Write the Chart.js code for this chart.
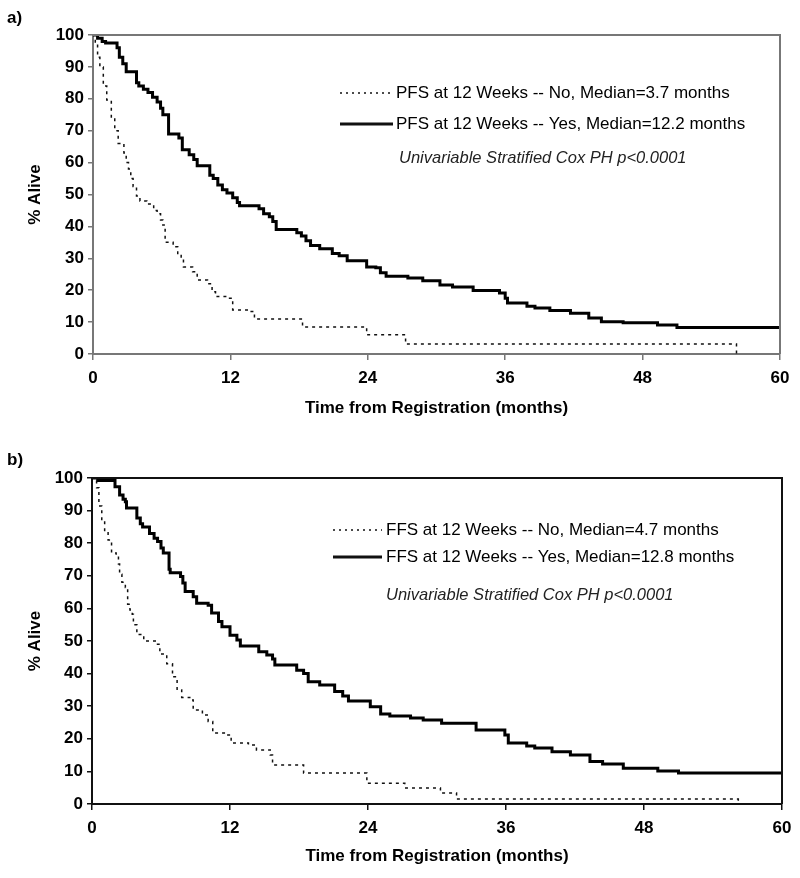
<!DOCTYPE html>
<html>
<head>
<meta charset="utf-8">
<script src="https://cdn.jsdelivr.net/npm/chart.js@4.4.1/dist/chart.umd.min.js"></script>
<style>
body { margin: 0; background: #fff; width: 800px; height: 878px; overflow: hidden; position: relative; font-family: "Liberation Sans", Arial, sans-serif; }
.panel { position: absolute; left: 0; }
.tag { position: absolute; left: 7px; font-weight: bold; font-size: 17px; line-height: 20px; }
</style>
</head>
<body>
<canvas id="chartA" class="panel" width="800" height="430" style="top:0"></canvas>
<canvas id="chartB" class="panel" width="800" height="448" style="top:430px"></canvas>
<div class="tag" style="top:8px">a)</div>
<div class="tag" style="top:450px">b)</div>
<script>
const FONT = '"Liberation Sans", Arial, sans-serif';

// axis ticks
const monthTicks = [0, 12, 24, 36, 48, 60];
const aliveTicks = [0, 10, 20, 30, 40, 50, 60, 70, 80, 90, 100];

// panel a - PFS at 12 weeks, No
const pfsNoTime  = [0, 0.2, 0.4, 0.6, 0.9, 1.2, 1.6, 1.9, 2.2, 2.7, 2.9, 3.1, 3.3, 3.5, 3.8, 4.1, 4.7, 5.3, 5.6, 5.9, 6.1, 6.3, 7.0, 7.4, 7.7, 7.9, 8.7, 9.1, 10.0, 10.4, 10.7, 11.8, 12.2, 13.7, 14.1, 18.3, 23.9, 27.3, 56.2];
const pfsNoAlive = [100, 97.5, 93, 90, 84, 79.6, 74, 70, 66, 63, 60, 58, 55, 52.5, 49.5, 48, 47, 45, 44, 42, 40.4, 35, 33.6, 31.5, 30, 27.3, 25.8, 23.2, 22, 19.5, 18, 17.5, 13.8, 13.3, 11, 8.5, 6, 3.1, 0];
// panel a - PFS at 12 weeks, Yes
const pfsYesTime  = [0, 0.4, 0.8, 1.1, 2.1, 2.3, 2.6, 2.9, 3.8, 4.0, 4.4, 4.8, 5.2, 5.6, 5.9, 6.1, 6.6, 7.5, 7.8, 8.4, 8.8, 9.1, 10.2, 10.5, 10.9, 11.3, 11.7, 12.2, 12.6, 12.8, 14.5, 14.9, 15.4, 15.7, 16.0, 17.8, 18.2, 18.6, 19.0, 19.8, 20.9, 21.5, 22.2, 23.9, 24.7, 25.1, 25.6, 27.5, 28.8, 30.3, 31.4, 33.2, 35.5, 36.0, 36.2, 37.9, 38.6, 39.9, 41.7, 43.3, 44.4, 46.3, 49.3, 51.0, 60];
const pfsYesAlive = [100, 99, 98, 97.5, 96, 93, 91, 88.5, 85, 84, 83, 82, 80.5, 79, 77, 75, 69, 67.7, 64, 62.5, 61, 59, 56, 55, 53, 51.5, 50.5, 49, 47.5, 46.5, 45.5, 44, 43, 41.5, 39, 38, 37, 35.5, 34, 33, 31.5, 30.8, 29.2, 27.3, 27, 25.5, 24.4, 23.8, 23, 21.6, 21, 19.9, 19.1, 17.5, 16, 15, 14.4, 13.6, 12.8, 11.3, 10.1, 9.8, 9.1, 8.3, 8.3];

// panel b - FFS at 12 weeks, No
const ffsNoTime  = [0, 0.2, 0.4, 0.6, 0.85, 1.1, 1.4, 1.7, 2.1, 2.3, 2.4, 2.6, 2.9, 3.1, 3.3, 3.5, 3.6, 3.9, 4.5, 5.5, 5.9, 6.5, 7.0, 7.4, 7.8, 8.5, 8.8, 9.6, 10.1, 10.5, 11.7, 12.1, 13.6, 14.3, 15.5, 15.7, 18.4, 23.9, 27.2, 30.3, 31.7, 56.2];
const ffsNoAlive = [100, 99.4, 97, 91.4, 87, 83.5, 81, 77, 76.4, 73.6, 70.5, 68, 66.4, 61.3, 59.5, 58.2, 55, 52, 50, 49, 46, 43, 39, 35, 32.7, 31.9, 28.8, 27.3, 25.3, 21.8, 21.2, 18.7, 18.1, 16.6, 15, 12, 9.5, 6.4, 4.9, 3.4, 1.5, 0.7];
// panel b - FFS at 12 weeks, Yes
const ffsYesTime  = [0, 0.5, 2.0, 2.4, 2.7, 2.9, 3.0, 3.9, 4.2, 4.4, 5.0, 5.4, 5.7, 6.0, 6.2, 6.7, 6.8, 7.7, 7.9, 8.1, 8.8, 9.1, 10.1, 10.4, 11.0, 11.3, 12.0, 12.6, 12.9, 14.5, 15.2, 15.7, 15.9, 17.8, 18.4, 18.8, 19.8, 21.1, 21.8, 22.3, 24.2, 25.1, 25.9, 27.7, 28.8, 30.4, 33.4, 35.9, 36.2, 37.8, 38.5, 40.0, 41.6, 43.3, 44.4, 46.2, 49.2, 51.0, 60];
const ffsYesAlive = [100, 99.2, 97.3, 94.8, 93.5, 92.7, 90.8, 87.7, 86, 85, 83, 81.5, 80.5, 78.5, 77, 72, 70.9, 69.8, 67.8, 65.2, 63.6, 61.6, 61, 58.6, 56, 54.4, 51.8, 50.3, 48.5, 46.7, 45.7, 44.5, 42.6, 41, 40, 37.5, 36.5, 34.5, 33.1, 31.6, 29.8, 27.6, 27, 26.4, 25.8, 24.8, 22.7, 21.2, 18.7, 17.8, 17.2, 16, 15, 13, 12.3, 11, 10.1, 9.5, 9.5];

function toPoints(times, alive) {
    return times.map((t, i) => ({ x: t, y: alive[i] }));
}

// draws top/right frame plus the in-plot legend text
const framePlugin = {
    id: 'frame',
    afterDraw(chart, args, opts) {
        const { ctx, chartArea: a } = chart;
        ctx.save();
        ctx.strokeStyle = opts.color;
        ctx.lineWidth = 2;
        ctx.beginPath();
        ctx.moveTo(a.left, a.top);
        ctx.lineTo(a.right, a.top);
        ctx.lineTo(a.right, a.bottom);
        ctx.stroke();

        ctx.fillStyle = '#000';
        ctx.textBaseline = 'middle';
        opts.rows.forEach(row => {
            if (row.dash) {
                ctx.beginPath();
                ctx.setLineDash(row.dash);
                ctx.lineWidth = row.width;
                ctx.strokeStyle = '#111';
                ctx.moveTo(row.x0, row.y);
                ctx.lineTo(row.x1, row.y);
                ctx.stroke();
                ctx.setLineDash([]);
            }
            ctx.font = row.font;
            ctx.fillStyle = row.color || '#000';
            ctx.fillText(row.text, row.tx, row.y);
        });
        ctx.restore();
    }
};

function makeChart(id, noPts, yesPts, g) {
    const tickFont = { family: FONT, size: 17, weight: 'bold' };
    new Chart(document.getElementById(id), {
        type: 'line',
        data: {
            datasets: [
                { data: noPts, borderColor: '#111', borderWidth: 1.5, borderDash: [3, 4], stepped: 'before', pointRadius: 0, fill: false },
                { data: yesPts, borderColor: '#000', borderWidth: 3, stepped: 'before', pointRadius: 0, fill: false }
            ]
        },
        options: {
            responsive: false,
            animation: false,
            devicePixelRatio: 1,
            layout: { padding: { left: g.padLeft, right: g.padRight, top: g.padTop, bottom: g.padBottom } },
            plugins: {
                legend: { display: false },
                tooltip: { enabled: false },
                frame: { color: g.frame, rows: g.rows }
            },
            scales: {
                x: {
                    type: 'linear', min: 0, max: 60,
                    afterBuildTicks: s => { s.ticks = monthTicks.map(v => ({ value: v })); },
                    afterFit: s => { s.height = g.xHeight; },
                    grid: { drawOnChartArea: false, drawTicks: true, tickLength: 6, color: g.frame, lineWidth: 1.5 },
                    border: { color: g.frame, width: 2 },
                    ticks: { font: tickFont, color: '#000', padding: 8, maxRotation: 0, autoSkip: false },
                    title: { display: true, text: 'Time from Registration (months)', font: tickFont, color: '#000', padding: 0 }
                },
                y: {
                    min: 0, max: 100,
                    afterBuildTicks: s => { s.ticks = aliveTicks.map(v => ({ value: v })); },
                    afterFit: s => { s.width = g.yWidth; },
                    grid: { drawOnChartArea: false, drawTicks: true, tickLength: 5, color: g.frame, lineWidth: 1.5 },
                    border: { color: g.frame, width: 2 },
                    ticks: { font: tickFont, color: '#000', padding: 4, autoSkip: false },
                    title: { display: true, text: '% Alive', font: tickFont, color: '#000', padding: 0 }
                }
            }
        },
        plugins: [framePlugin]
    });
}

const legendFont = '17px ' + FONT;
const noteFont = 'italic 16.5px ' + FONT;

makeChart('chartA', toPoints(pfsNoTime, pfsNoAlive), toPoints(pfsYesTime, pfsYesAlive), {
    padLeft: 25, padRight: 20, padTop: 35, padBottom: 11, yWidth: 68, xHeight: 65, frame: '#777',
    rows: [
        { dash: [2, 4], width: 1.5, x0: 340, x1: 393, y: 93, tx: 396, text: 'PFS at 12 Weeks -- No, Median=3.7 months', font: legendFont },
        { dash: [], width: 3, x0: 340, x1: 393, y: 124, tx: 396, text: 'PFS at 12 Weeks -- Yes, Median=12.2 months', font: legendFont },
        { tx: 399, y: 158, text: 'Univariable Stratified Cox PH p<0.0001', font: noteFont, color: '#222' }
    ]
});

makeChart('chartB', toPoints(ffsNoTime, ffsNoAlive), toPoints(ffsYesTime, ffsYesAlive), {
    padLeft: 25, padRight: 18, padTop: 48, padBottom: 11, yWidth: 67, xHeight: 63, frame: '#111',
    rows: [
        { dash: [2, 4], width: 1.5, x0: 333, x1: 382, y: 100, tx: 386, text: 'FFS at 12 Weeks -- No, Median=4.7 months', font: legendFont },
        { dash: [], width: 3, x0: 333, x1: 382, y: 127, tx: 386, text: 'FFS at 12 Weeks -- Yes, Median=12.8 months', font: legendFont },
        { tx: 386, y: 165, text: 'Univariable Stratified Cox PH p<0.0001', font: noteFont, color: '#222' }
    ]
});
</script>
</body>
</html>
